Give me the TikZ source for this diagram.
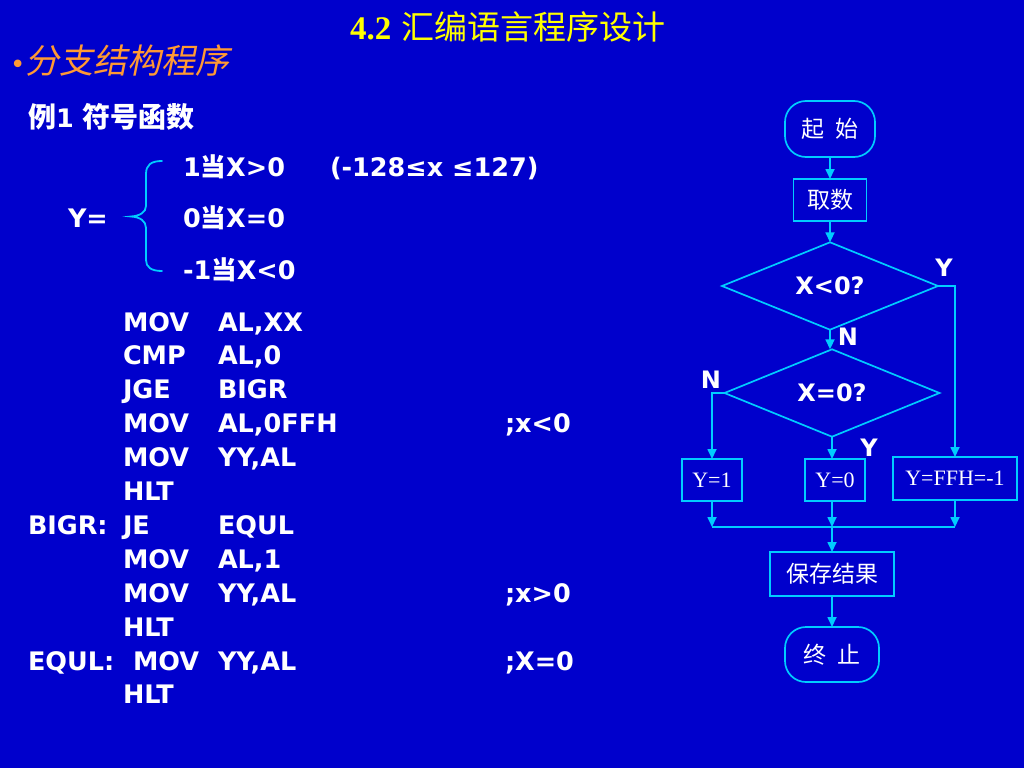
\documentclass[tikz,border=0pt]{standalone}
\usepackage{fontspec}
\setmainfont{DejaVu Sans}
\newfontfamily\cjk{Noto Sans CJK SC}
\newfontfamily\cjkit[FakeSlant=0.2]{Noto Sans CJK SC}
\newfontfamily\tnr{Liberation Serif}
\usetikzlibrary{shapes.geometric,shapes.misc,arrows.meta}
\definecolor{bg}{RGB}{0,0,204}
\definecolor{ln}{RGB}{0,204,255}
\definecolor{ttl}{RGB}{255,255,0}
\definecolor{org}{RGB}{255,153,51}
\newcommand\dang{{\cjk\bfseries 当}}
\begin{document}
\begin{tikzpicture}[x=1pt,y=-1pt,
  every node/.style={inner sep=0pt,outer sep=0pt},
  code/.style={anchor=base west,text=white,font=\fontsize{25.5}{30}\selectfont\bfseries},
  fbox/.style={draw=ln,line width=1.7pt,text=white,rectangle},
  term/.style={draw=ln,line width=1.7pt,text=white,rectangle,rounded corners=21pt},
  dia/.style={draw=ln,line width=1.7pt,text=white,diamond,font=\fontsize{24}{24}\selectfont\bfseries},
  lbl/.style={text=white,font=\fontsize{24}{24}\selectfont\bfseries},
  bt/.style={font=\tnr\fontsize{22}{22}\selectfont},
  ct/.style={font=\cjk\fontsize{23}{23}\selectfont},
  con/.style={draw=ln,line width=1.7pt},
  arr/.style={con,-{Triangle[length=10pt,width=9pt]}}]
\useasboundingbox (0,0) rectangle (1024,768);
\fill[bg] (0,0) rectangle (1024,768);

% titles
\node[anchor=base west,text=ttl] (title) at (350,40) {\fontsize{33}{40}\selectfont{\tnr\bfseries 4.2} {\cjk 汇编语言程序设计}};
\node[anchor=base west,text=org] (sub) at (10,74) {{\fontsize{26}{26}\selectfont •}{\fontsize{34}{40}\selectfont\cjkit 分支结构程序}};
\node[code] (ex) at (28,127) {{\fontsize{28}{30}\selectfont\cjk\bfseries 例}1 {\fontsize{28}{30}\selectfont\cjk\bfseries 符号函数}};

% formula
\node[code] (f1) at (183,176) {1\dang X>0};
\node[code] (rng) at (330,176) {(-128≤x ≤127)};
\node[code] (yeq) at (68,227) {Y=};
\node[code] (f2) at (183,227) {0\dang X=0};
\node[code] (f3) at (183,279) {-1\dang X<0};
\draw[con,line width=1.8pt,line cap=round] (162,161) .. controls (151,161) and (146,165) .. (146,174) -- (146,206) .. controls (146,212) and (140,216) .. (131,216.5) .. controls (140,217) and (146,221) .. (146,228) -- (146,260) .. controls (146,267) and (151,271) .. (162,271);

% code
\node[code] (a1) at (123,331) {MOV};   \node[code] (b1) at (218,331) {AL,XX};
\node[code] (a2) at (123,364.9) {CMP}; \node[code] (b2) at (218,364.9) {AL,0};
\node[code] (a3) at (123,398.8) {JGE}; \node[code] (b3) at (218,398.8) {BIGR};
\node[code] (a4) at (123,432.7) {MOV}; \node[code] (b4) at (218,432.7) {AL,0FFH}; \node[code] (c4) at (505,432.7) {;x<0};
\node[code] (a5) at (123,466.6) {MOV}; \node[code] (b5) at (218,466.6) {YY,AL};
\node[code] (a6) at (123,500.5) {HLT};
\node[code] (l7) at (28,534.4) {BIGR:}; \node[code] (a7) at (123,534.4) {JE}; \node[code] (b7) at (218,534.4) {EQUL};
\node[code] (a8) at (123,568.3) {MOV}; \node[code] (b8) at (218,568.3) {AL,1};
\node[code] (a9) at (123,602.2) {MOV}; \node[code] (b9) at (218,602.2) {YY,AL}; \node[code] (c9) at (505,602.2) {;x>0};
\node[code] (a10) at (123,636.1) {HLT};
\node[code] (l11) at (28,670) {EQUL:}; \node[code] (a11) at (133,670) {MOV}; \node[code] (b11) at (218,670) {YY,AL}; \node[code] (c11) at (505,670) {;X=0};
\node[code] (a12) at (123,703.9) {HLT};

% flowchart
\node[term,ct,minimum width=90pt,minimum height=56pt] (st) at (830,129) {起\hspace{12pt}始};
\node[fbox,ct,minimum width=73pt,minimum height=42pt] (get) at (830,200) {取数};
\node[dia,minimum width=216pt,minimum height=78pt] (d1) at (830,286) {X<0?};
\node[dia,minimum width=215pt,minimum height=78pt] (d2) at (832,393) {X=0?};
\node[fbox,bt,minimum width=60pt,minimum height=42pt] (y1) at (712,480) {Y=1};
\node[fbox,bt,minimum width=60pt,minimum height=42pt] (y0) at (835,480) {Y=0};
\node[fbox,bt,minimum width=124pt,minimum height=43pt] (ffh) at (955,478.5) {Y=FFH=-1};
\node[fbox,ct,minimum width=124pt,minimum height=44pt] (save) at (832,574) {保存结果};
\node[term,ct,minimum width=94pt,minimum height=55pt] (end) at (832,654.5) {终\hspace{12pt}止};

\node[lbl] (ly1) at (944,268) {Y};
\node[lbl] (ln1) at (848,337) {N};
\node[lbl] (ln2) at (711,380) {N};
\node[lbl] (ly2) at (869,448) {Y};

\coordinate (mL) at (712,527);
\coordinate (mC) at (832,527);
\coordinate (mR) at (955,527);

\draw[arr] (st) -- (get);
\draw[arr] (get) -- (d1);
\draw[arr] (d1.south) -- (d1.south |- d2.north);
\draw[arr] (d1.east) -| (ffh.north);
\draw[arr] (d2.west) -| (y1.north);
\draw[arr] (d2.south) -- (d2.south |- y0.north);
\draw[con] (mL) -- (mR);
\draw[arr] (y1.south) -- (mL);
\draw[arr] (mC |- y0.south) -- (mC);
\draw[arr] (ffh.south) -- (mR);
\draw[arr] (mC) -- (save.north -| mC);
\draw[arr] (save) -- (end);
\end{tikzpicture}
\end{document}
